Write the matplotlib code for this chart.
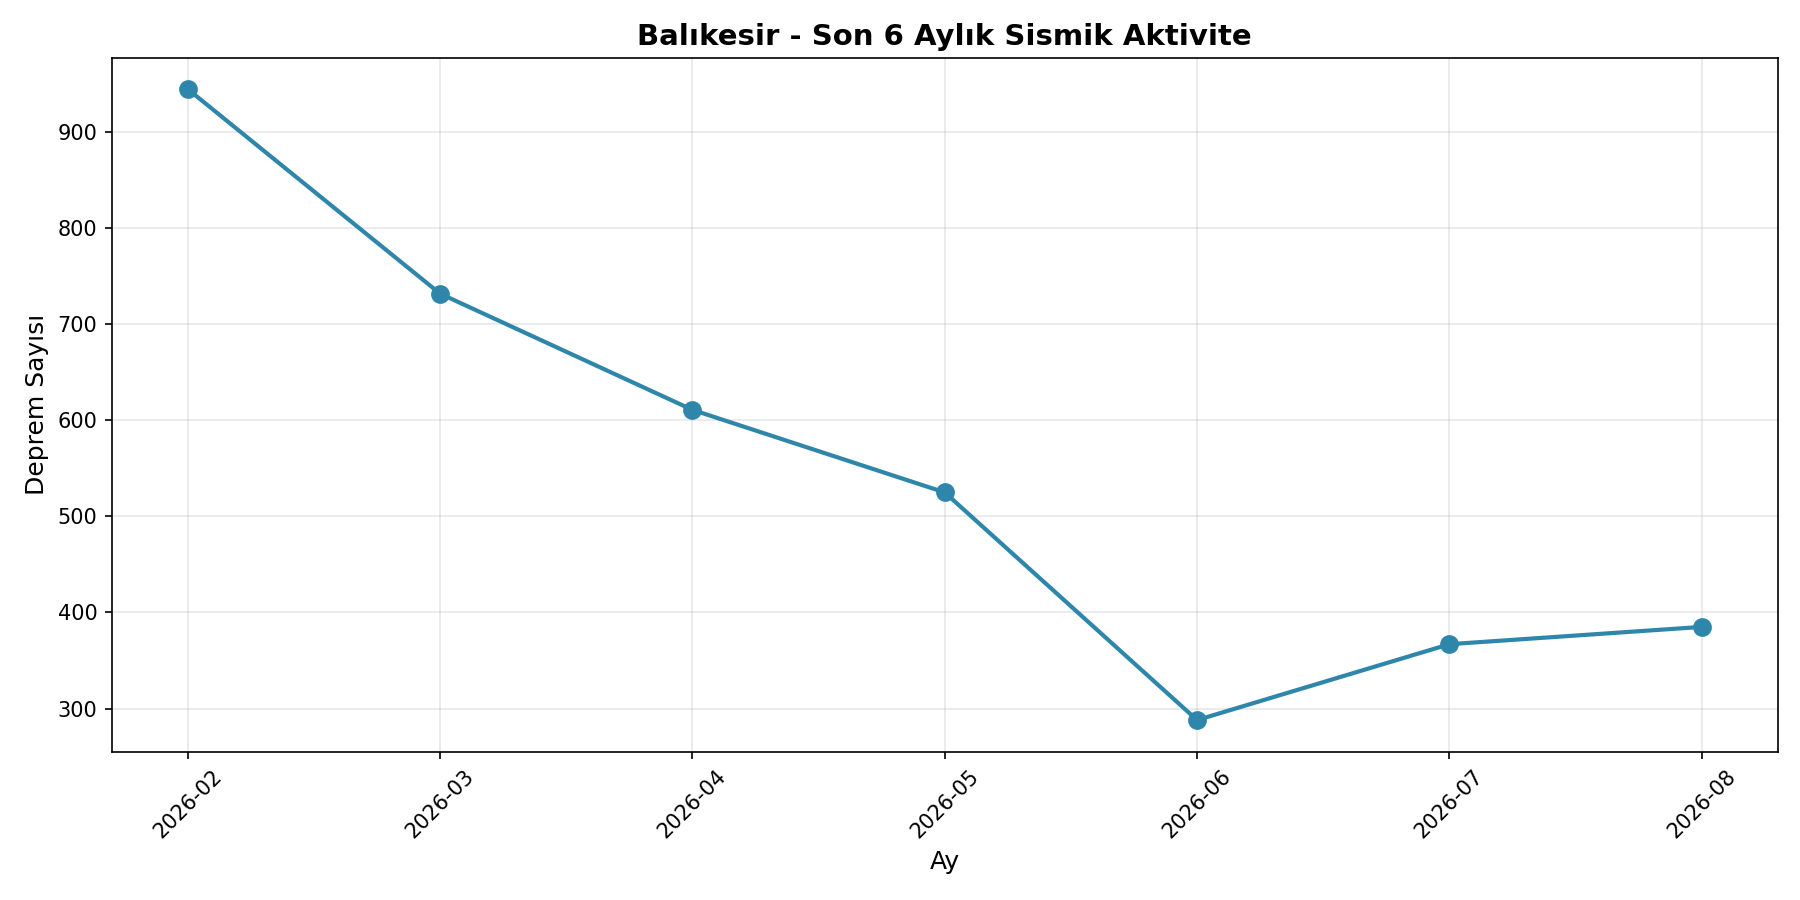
import matplotlib
matplotlib.use('Agg')
import matplotlib.pyplot as plt

# Monthly earthquake counts
months = ['2026-02', '2026-03', '2026-04', '2026-05', '2026-06', '2026-07', '2026-08']
counts = [945, 732, 611, 525, 288, 367, 385]

fig, ax = plt.subplots(figsize=(12, 6))
ax.plot(months, counts, marker='o', linewidth=2, markersize=8, color='#2E86AB')
ax.set_title('Balıkesir - Son 6 Aylık Sismik Aktivite', fontsize=14, fontweight='bold')
ax.set_xlabel('Ay', fontsize=12)
ax.set_ylabel('Deprem Sayısı', fontsize=12)
ax.grid(True, alpha=0.3)
plt.xticks(rotation=45)
plt.tight_layout()
plt.savefig('out.png', dpi=150)
